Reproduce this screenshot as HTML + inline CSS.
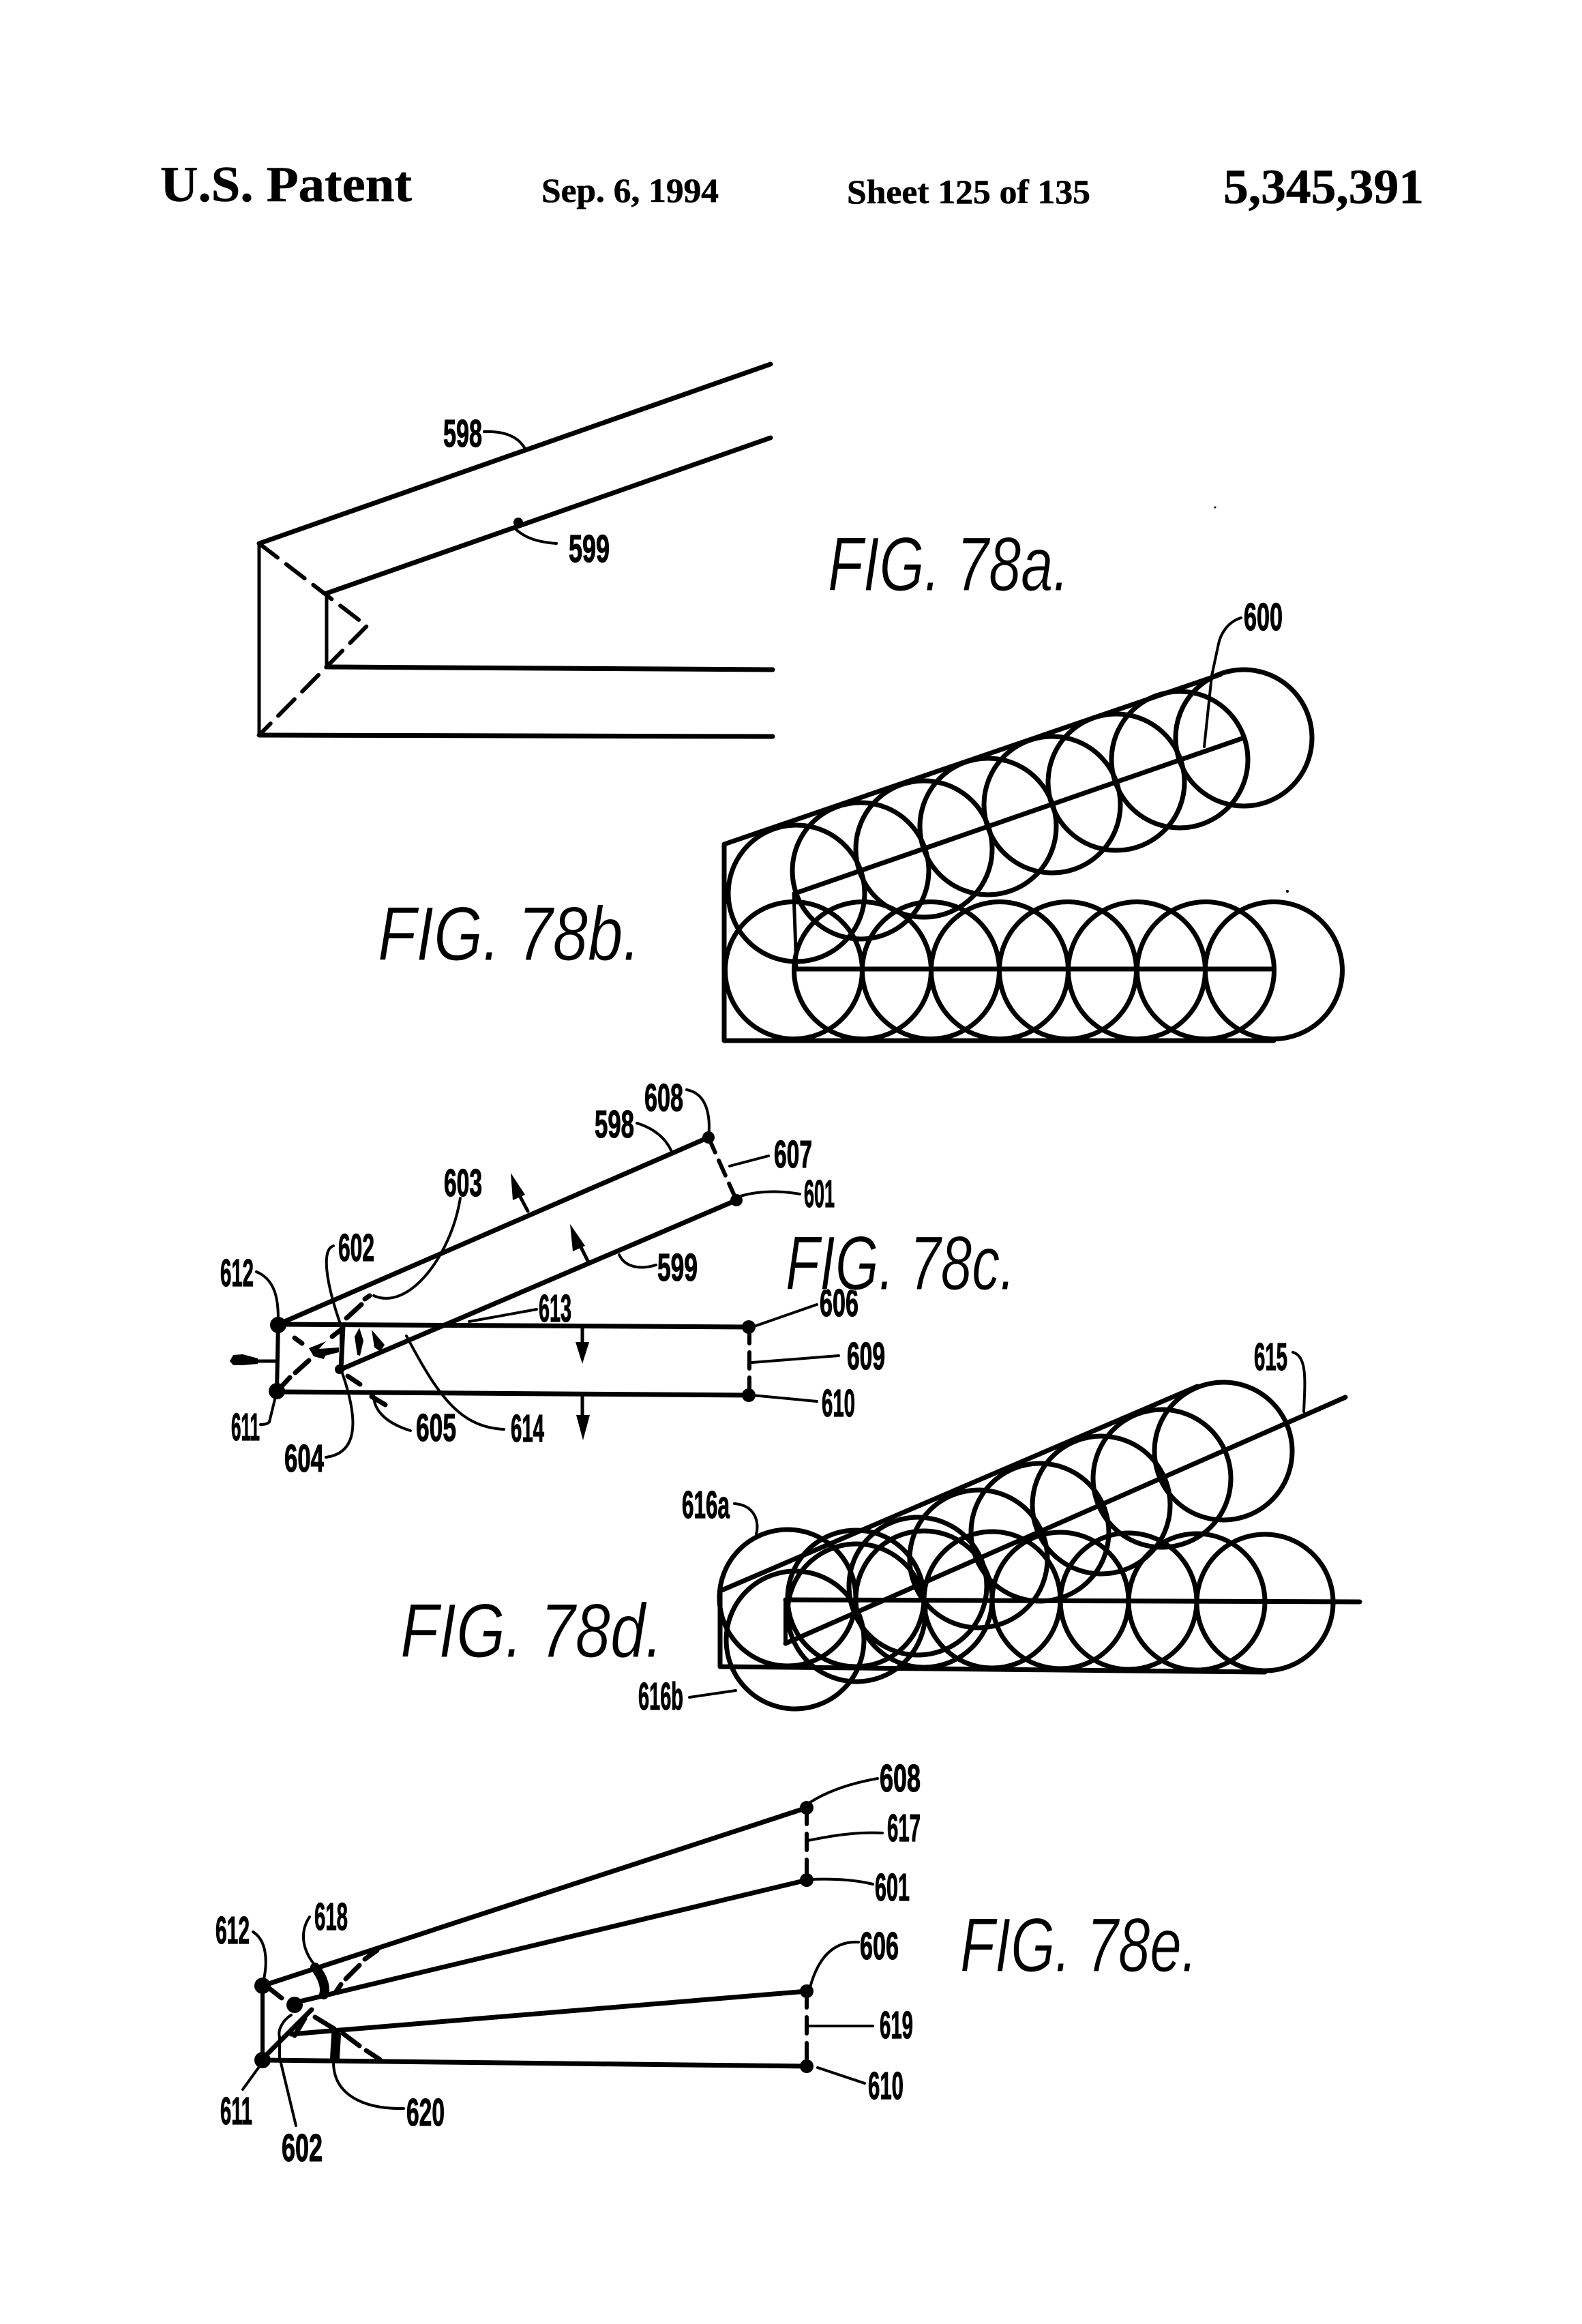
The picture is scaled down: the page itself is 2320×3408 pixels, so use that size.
<!DOCTYPE html>
<html><head><meta charset="utf-8"><title>Sheet 125 of 135</title>
<style>
html,body{margin:0;padding:0;background:#fff}
svg{display:block}
.h{font-family:"Liberation Serif",serif;font-weight:bold;fill:#000;stroke:#000;stroke-width:.6}
.l{font-family:"Liberation Sans",sans-serif;font-weight:bold;font-size:57px;fill:#000;stroke:#000;stroke-width:1.2}
.f{font-family:"Liberation Sans",sans-serif;font-style:italic;font-size:112px;fill:#000;stroke:#fff;stroke-width:1}
.m{fill:none;stroke:#000;stroke-width:7;stroke-linecap:round;stroke-linejoin:round}
.t{fill:none;stroke:#000;stroke-width:4;stroke-linecap:round}
.c{fill:none;stroke:#000;stroke-width:7}
.d{fill:none;stroke:#000;stroke-width:6;stroke-linecap:round}
</style></head>
<body>
<svg width="2320" height="3408" viewBox="0 0 2320 3408" xmlns="http://www.w3.org/2000/svg">
<rect width="2320" height="3408" fill="#fff"/>
<!-- header -->
<text class="h" x="235" y="295" font-size="74" textLength="369" lengthAdjust="spacingAndGlyphs">U.S. Patent</text>
<text class="h" x="794" y="296" font-size="50" textLength="260" lengthAdjust="spacingAndGlyphs">Sep. 6, 1994</text>
<text class="h" x="1242" y="298" font-size="50" textLength="357" lengthAdjust="spacingAndGlyphs">Sheet 125 of 135</text>
<text class="h" x="1794" y="298" font-size="72" textLength="294" lengthAdjust="spacingAndGlyphs">5,345,391</text>

<!-- FIG 78a -->
<path class="m" d="M380 797L1130 534M479 870L1130 642M1133 1080L380 1078M479 978L1133 982"/>
<path class="m" style="stroke-width:5" d="M380 797V1078M479 870V978"/>
<path class="d" stroke-dasharray="34 16" d="M380 797L538 918L380 1078"/>
<circle cx="760" cy="766" r="7"/>
<path class="t" d="M710 633C740 632 760 640 770 658M753 773C770 790 790 795 816 797"/>
<text class="l" x="650" y="655" textLength="57" lengthAdjust="spacingAndGlyphs">598</text>
<text class="l" x="834" y="824" textLength="60" lengthAdjust="spacingAndGlyphs">599</text>
<text class="f" x="1214" y="866" textLength="354" lengthAdjust="spacingAndGlyphs">FIG. 78a.</text>

<!-- FIG 78b -->
<path class="m" d="M1062 1238L1790 989M1062 1238V1526H1868M1166 1310L1824 1082M1166 1421H1868"/>
<path class="m" style="stroke-width:5" d="M1164 1310L1168 1421"/>
<g class="c">
<circle cx="1168" cy="1310" r="100"/><circle cx="1262" cy="1277" r="100"/><circle cx="1355" cy="1245" r="100"/><circle cx="1449" cy="1212" r="100"/><circle cx="1543" cy="1180" r="100"/><circle cx="1637" cy="1147" r="100"/><circle cx="1730" cy="1114" r="100"/><circle cx="1824" cy="1082" r="100"/>
<circle cx="1164" cy="1423" r="100.5"/><circle cx="1265" cy="1423" r="100.5"/><circle cx="1365" cy="1423" r="100.5"/><circle cx="1466" cy="1423" r="100.5"/><circle cx="1566" cy="1423" r="100.5"/><circle cx="1667" cy="1423" r="100.5"/><circle cx="1768" cy="1423" r="100.5"/><circle cx="1868" cy="1423" r="100.5"/>
</g>
<path class="t" d="M1820 906C1800 912 1790 930 1787 944L1777 991L1766 1095"/>
<text class="l" x="1824" y="924" textLength="57" lengthAdjust="spacingAndGlyphs">600</text>
<text class="f" x="554" y="1408" textLength="385" lengthAdjust="spacingAndGlyphs">FIG. 78b.</text>

<!-- FIG 78c -->
<path class="m" d="M408 1942L1039 1668M500 2008L1080 1760M408 1942L1098 1946M406 2041L1098 2046M503 1944L500 2008"/>
<path class="m" style="stroke-width:6" d="M408 1942L406 2040"/>
<g>
<circle cx="408" cy="1943" r="12"/><circle cx="406" cy="2040" r="12"/><circle cx="1098" cy="1946" r="10"/><circle cx="1098" cy="2046" r="10"/><circle cx="1039" cy="1668" r="9"/><circle cx="1080" cy="1760" r="9"/><circle cx="498" cy="2008" r="7"/>
</g>
<path class="d" stroke-dasharray="24 13" d="M1039 1668L1080 1760M1099 1946V2046"/>
<path class="d" style="stroke-width:7" d="M412 2034L425 2020M433 2013L453 1995M487 1960L500 1950M508 1933L530 1913M535 1905L542 1900M432 1962L443 1970M510 2018L528 2030M545 2048L565 2060"/>
<!-- arrows -->
<path class="m" style="stroke-width:5" d="M404 1996H345M774 1776L755 1740M862 1849L845 1815M854 1948V1985M854 2046V2095"/>
<path d="M337 1996L342 1987L356 1986L378 1992V2000L356 2002L342 2002ZM749 1720L770 1752L752 1760ZM836 1795L858 1827L840 1835ZM854 2000L844 1968H864ZM855 2112L845 2075H865Z"/>
<path d="M527 1947L533 1966L528 1988L524 1987L520 1960ZM545 1950L564 1972L558 1982L549 1976Z"/>
<path d="M497 1983L497 1976L468 1978L478 1967L453 1977L460 1989L475 1993L477 1988Z"/>
<g class="t">
<path d="M1007 1598C1039 1604 1042 1641 1039 1668M934 1647C960 1655 977 1670 985 1689M1127 1695L1070 1710M1173 1751C1140 1745 1105 1747 1080 1756"/>
<path d="M675 1757C662 1840 600 1923 548 1900M489 1827C471 1832 478 1882 500 1944L500 2008C529 2089 522 2131 478 2137"/>
<path d="M376 1865C408 1878 408 1915 408 1940M908 1840C918 1861 943 1861 962 1855M787 1920L688 1938M1198 1913L1109 1944M1230 1988L1103 1998M1198 2055L1103 2046"/>
<path d="M406 2040L395 2085Q392 2089 382 2089M602 2098C560 2085 548 2064 548 2046M739 2096C675 2093 643 2048 596 1959"/>
</g>
<text class="l" x="945" y="1629" textLength="57" lengthAdjust="spacingAndGlyphs">608</text>
<text class="l" x="872" y="1668" textLength="58" lengthAdjust="spacingAndGlyphs">598</text>
<text class="l" x="1135" y="1712" textLength="56" lengthAdjust="spacingAndGlyphs">607</text>
<text class="l" x="1179" y="1770" textLength="45" lengthAdjust="spacingAndGlyphs">601</text>
<text class="l" x="651" y="1754" textLength="56" lengthAdjust="spacingAndGlyphs">603</text>
<text class="l" x="496" y="1849" textLength="53" lengthAdjust="spacingAndGlyphs">602</text>
<text class="l" x="323" y="1886" textLength="49" lengthAdjust="spacingAndGlyphs">612</text>
<text class="l" x="964" y="1878" textLength="59" lengthAdjust="spacingAndGlyphs">599</text>
<text class="l" x="790" y="1938" textLength="48" lengthAdjust="spacingAndGlyphs">613</text>
<text class="l" x="1202" y="1930" textLength="57" lengthAdjust="spacingAndGlyphs">606</text>
<text class="l" x="1242" y="2008" textLength="56" lengthAdjust="spacingAndGlyphs">609</text>
<text class="l" x="1205" y="2077" textLength="49" lengthAdjust="spacingAndGlyphs">610</text>
<text class="l" x="339" y="2112" textLength="42" lengthAdjust="spacingAndGlyphs">611</text>
<text class="l" x="610" y="2113" textLength="59" lengthAdjust="spacingAndGlyphs">605</text>
<text class="l" x="749" y="2114" textLength="49" lengthAdjust="spacingAndGlyphs">614</text>
<text class="l" x="417" y="2158" textLength="58" lengthAdjust="spacingAndGlyphs">604</text>
<text class="f" x="1152" y="1891" textLength="337" lengthAdjust="spacingAndGlyphs">FIG. 78c.</text>

<!-- FIG 78d -->
<path class="m" d="M1056 2333L1756 2033M1056 2333V2444L1855 2452M1152 2410L1973 2049M1152 2346L1994 2349"/>
<path class="m" style="stroke-width:6" d="M1152 2346V2410"/>
<g class="c">
<circle cx="1166" cy="2405" r="101"/><circle cx="1256" cy="2365" r="101"/><circle cx="1346" cy="2326" r="101"/><circle cx="1435" cy="2286" r="101"/><circle cx="1525" cy="2247" r="101"/><circle cx="1615" cy="2207" r="101"/><circle cx="1704" cy="2168" r="101"/><circle cx="1794" cy="2128" r="101"/>
<circle cx="1155" cy="2343" r="100"/><circle cx="1255" cy="2344" r="100"/><circle cx="1355" cy="2345" r="100"/><circle cx="1455" cy="2346" r="100"/><circle cx="1555" cy="2347" r="100"/><circle cx="1655" cy="2348" r="100"/><circle cx="1755" cy="2349" r="100"/><circle cx="1855" cy="2350" r="100"/>
</g>
<path class="t" d="M1896 1983C1917 1989 1914 2024 1912 2070M1077 2205C1107 2207 1114 2232 1109 2250M1011 2489L1079 2479"/>
<text class="l" x="1839" y="2009" textLength="49" lengthAdjust="spacingAndGlyphs">615</text>
<text class="l" x="1000" y="2226" textLength="70" lengthAdjust="spacingAndGlyphs">616a</text>
<text class="l" x="936" y="2507" textLength="66" lengthAdjust="spacingAndGlyphs">616b</text>
<text class="f" x="587" y="2430" textLength="385" lengthAdjust="spacingAndGlyphs">FIG. 78d.</text>

<!-- FIG 78e -->
<path class="m" d="M385 2912L1183 2651M427 2938L1183 2757M427 2983L1183 2920M385 3021L1183 3030"/>
<path class="m" style="stroke-width:6" d="M385 2912V3021"/>
<circle cx="385" cy="2912" r="12"/><circle cx="385" cy="3021" r="12"/><circle cx="1183" cy="2651" r="10"/><circle cx="1183" cy="2757" r="10"/><circle cx="1183" cy="2920" r="10"/><circle cx="1183" cy="3030" r="10"/><circle cx="432" cy="2940" r="12"/>
<path class="d" stroke-dasharray="24 14" d="M1183 2651V2757M1183 2920V3030"/>
<path class="d" style="stroke-width:7" d="M390 2912L413 2930M387 3017L457 2947M432 2985L447 2960M492 2922L500 2910M507 2902L527 2882M535 2873L553 2860M462 2958L490 2975M503 2982L527 3000M537 3007L557 3020"/>
<path class="m" style="stroke-width:14" d="M462 2885C474 2900 478 2915 475 2925M493 2984L491 3018"/>
<g class="t">
<path d="M454 2811C438 2835 445 2862 462 2882M371 2833C392 2846 392 2878 387 2902M385 3024L356 3064"/>
<path d="M434 3117L410 3017V2987C407 2977 415 2962 427 2955M592 3092C533 3093 489 3072 489 3024"/>
<path d="M1287 2608C1248 2615 1213 2627 1188 2643M1294 2688C1255 2686 1220 2692 1185 2699M1280 2763C1248 2755 1213 2755 1188 2756M1259 2848C1220 2846 1199 2874 1188 2914M1280 2971H1185M1268 3055L1199 3032"/>
</g>
<text class="l" x="461" y="2830" textLength="49" lengthAdjust="spacingAndGlyphs">618</text>
<text class="l" x="316" y="2850" textLength="50" lengthAdjust="spacingAndGlyphs">612</text>
<text class="l" x="323" y="3115" textLength="47" lengthAdjust="spacingAndGlyphs">611</text>
<text class="l" x="413" y="3169" textLength="60" lengthAdjust="spacingAndGlyphs">602</text>
<text class="l" x="596" y="3117" textLength="56" lengthAdjust="spacingAndGlyphs">620</text>
<text class="l" x="1290" y="2627" textLength="60" lengthAdjust="spacingAndGlyphs">608</text>
<text class="l" x="1301" y="2700" textLength="49" lengthAdjust="spacingAndGlyphs">617</text>
<text class="l" x="1283" y="2787" textLength="51" lengthAdjust="spacingAndGlyphs">601</text>
<text class="l" x="1261" y="2873" textLength="57" lengthAdjust="spacingAndGlyphs">606</text>
<text class="l" x="1290" y="2989" textLength="49" lengthAdjust="spacingAndGlyphs">619</text>
<text class="l" x="1273" y="3078" textLength="52" lengthAdjust="spacingAndGlyphs">610</text>
<text class="f" x="1408" y="2891" textLength="348" lengthAdjust="spacingAndGlyphs">FIG. 78e.</text>
<circle cx="1888" cy="1307" r="2"/><circle cx="1782" cy="744" r="1.5"/>
</svg>
</body></html>
